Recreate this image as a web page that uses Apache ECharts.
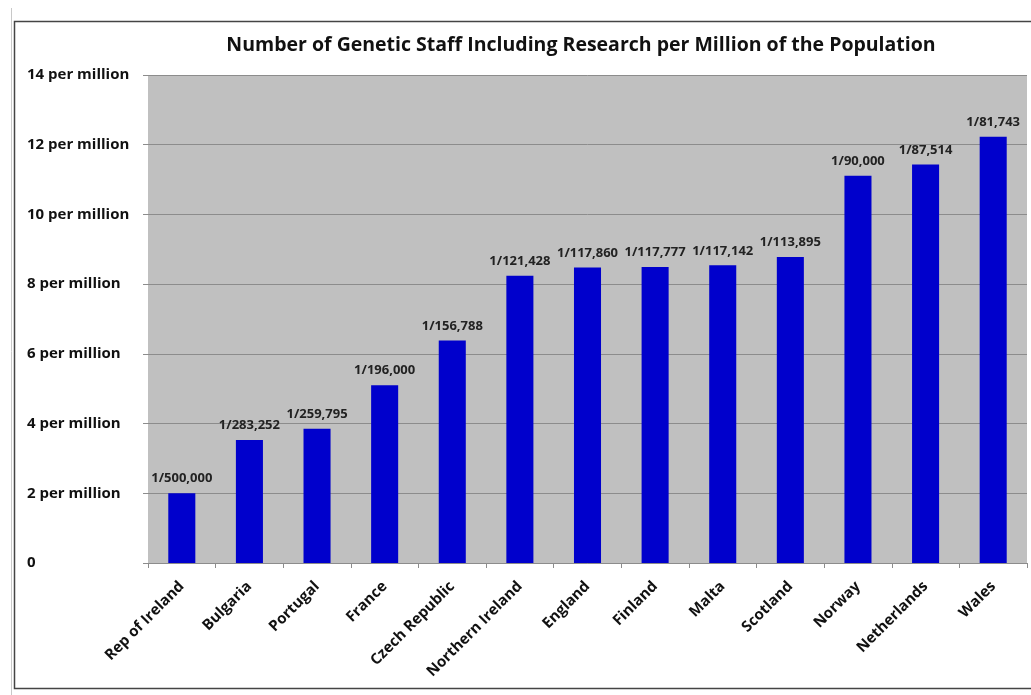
<!DOCTYPE html>
<html>
<head>
<meta charset="utf-8">
<title>Number of Genetic Staff Including Research per Million of the Population</title>
<script src="https://cdn.jsdelivr.net/npm/echarts@6/dist/echarts.min.js"></script>
<style>
  html, body { margin: 0; padding: 0; background: #ffffff; }
  #chart { width: 1031px; height: 695px; }
</style>
</head>
<body>
<div id="chart"></div>
<script>
// Countries, ordered by staffing level
const countries = [
  'Rep of Ireland', 'Bulgaria', 'Portugal', 'France', 'Czech Republic',
  'Northern Ireland', 'England', 'Finland', 'Malta', 'Scotland',
  'Norway', 'Netherlands', 'Wales'
];

// One genetic staff member per N people
const ratioLabels = [
  '1/500,000', '1/283,252', '1/259,795', '1/196,000', '1/156,788',
  '1/121,428', '1/117,860', '1/117,777', '1/117,142', '1/113,895',
  '1/90,000', '1/87,514', '1/81,743'
];

// Staff per million of the population
const staffPerMillion = [
  2.00, 3.53, 3.85, 5.10, 6.38,
  8.24, 8.48, 8.49, 8.54, 8.78,
  11.11, 11.43, 12.23
];

// Y axis tick values and their labels
const yTicks = [0, 2, 4, 6, 8, 10, 12, 14];
const yTickLabels = ['0', '2 per million', '4 per million', '6 per million',
  '8 per million', '10 per million', '12 per million', '14 per million'];

const FONT = '"Open Sans", "Liberation Sans", sans-serif';

const chart = echarts.init(document.getElementById('chart'), null, { renderer: 'canvas' });

chart.setOption({
  backgroundColor: '#ffffff',
  animation: false,
  title: {
    text: 'Number of Genetic Staff Including Research per Million of the Population',
    left: 576,
    top: 30,
    textAlign: 'center',
    textStyle: { fontFamily: FONT, fontSize: 19.5, fontWeight: 'bold', color: '#111111' }
  },
  graphic: [
    // faint outer line on the left
    { type: 'line', shape: { x1: 11.5, y1: 8, x2: 11.5, y2: 695 },
      style: { stroke: '#c8c8c8', lineWidth: 1 }, silent: true },
    // chart frame
    { type: 'rect', shape: { x: 14.5, y: 21.5, width: 1030, height: 667 },
      style: { fill: 'none', stroke: '#444444', lineWidth: 1.5 }, silent: true }
  ],
  grid: { left: 148, right: 4, top: 75, bottom: 132, containLabel: false,
    show: true, backgroundColor: '#c0c0c0', borderWidth: 0 },
  xAxis: {
    type: 'category',
    data: countries,
    axisLine: { show: true, lineStyle: { color: '#8c8c8c', width: 1 } },
    axisTick: { show: true, alignWithLabel: false, length: 5, lineStyle: { color: '#8c8c8c' } },
    axisLabel: {
      rotate: 45, interval: 0, margin: 21,
      fontFamily: FONT, fontSize: 15, fontWeight: 'bold', color: '#111111'
    }
  },
  yAxis: {
    type: 'value',
    min: 0, max: 14, interval: 2,
    axisLine: { show: false },
    axisTick: { show: true, length: 5, lineStyle: { color: '#8c8c8c' } },
    splitLine: { show: true, lineStyle: { color: '#8c8c8c', width: 1 } },
    axisLabel: {
      align: 'left', margin: 121,
      fontFamily: FONT, fontSize: 15, fontWeight: 'bold', color: '#111111',
      formatter: v => yTickLabels[yTicks.indexOf(v)]
    }
  },
  series: [{
    type: 'bar',
    data: staffPerMillion,
    barWidth: '40%',
    itemStyle: { color: '#0000cc' },
    label: {
      show: true, position: 'top', distance: 8,
      fontFamily: FONT, fontSize: 13, fontWeight: 'bold', color: '#222222',
      formatter: p => ratioLabels[p.dataIndex]
    }
  }]
});
</script>
</body>
</html>
